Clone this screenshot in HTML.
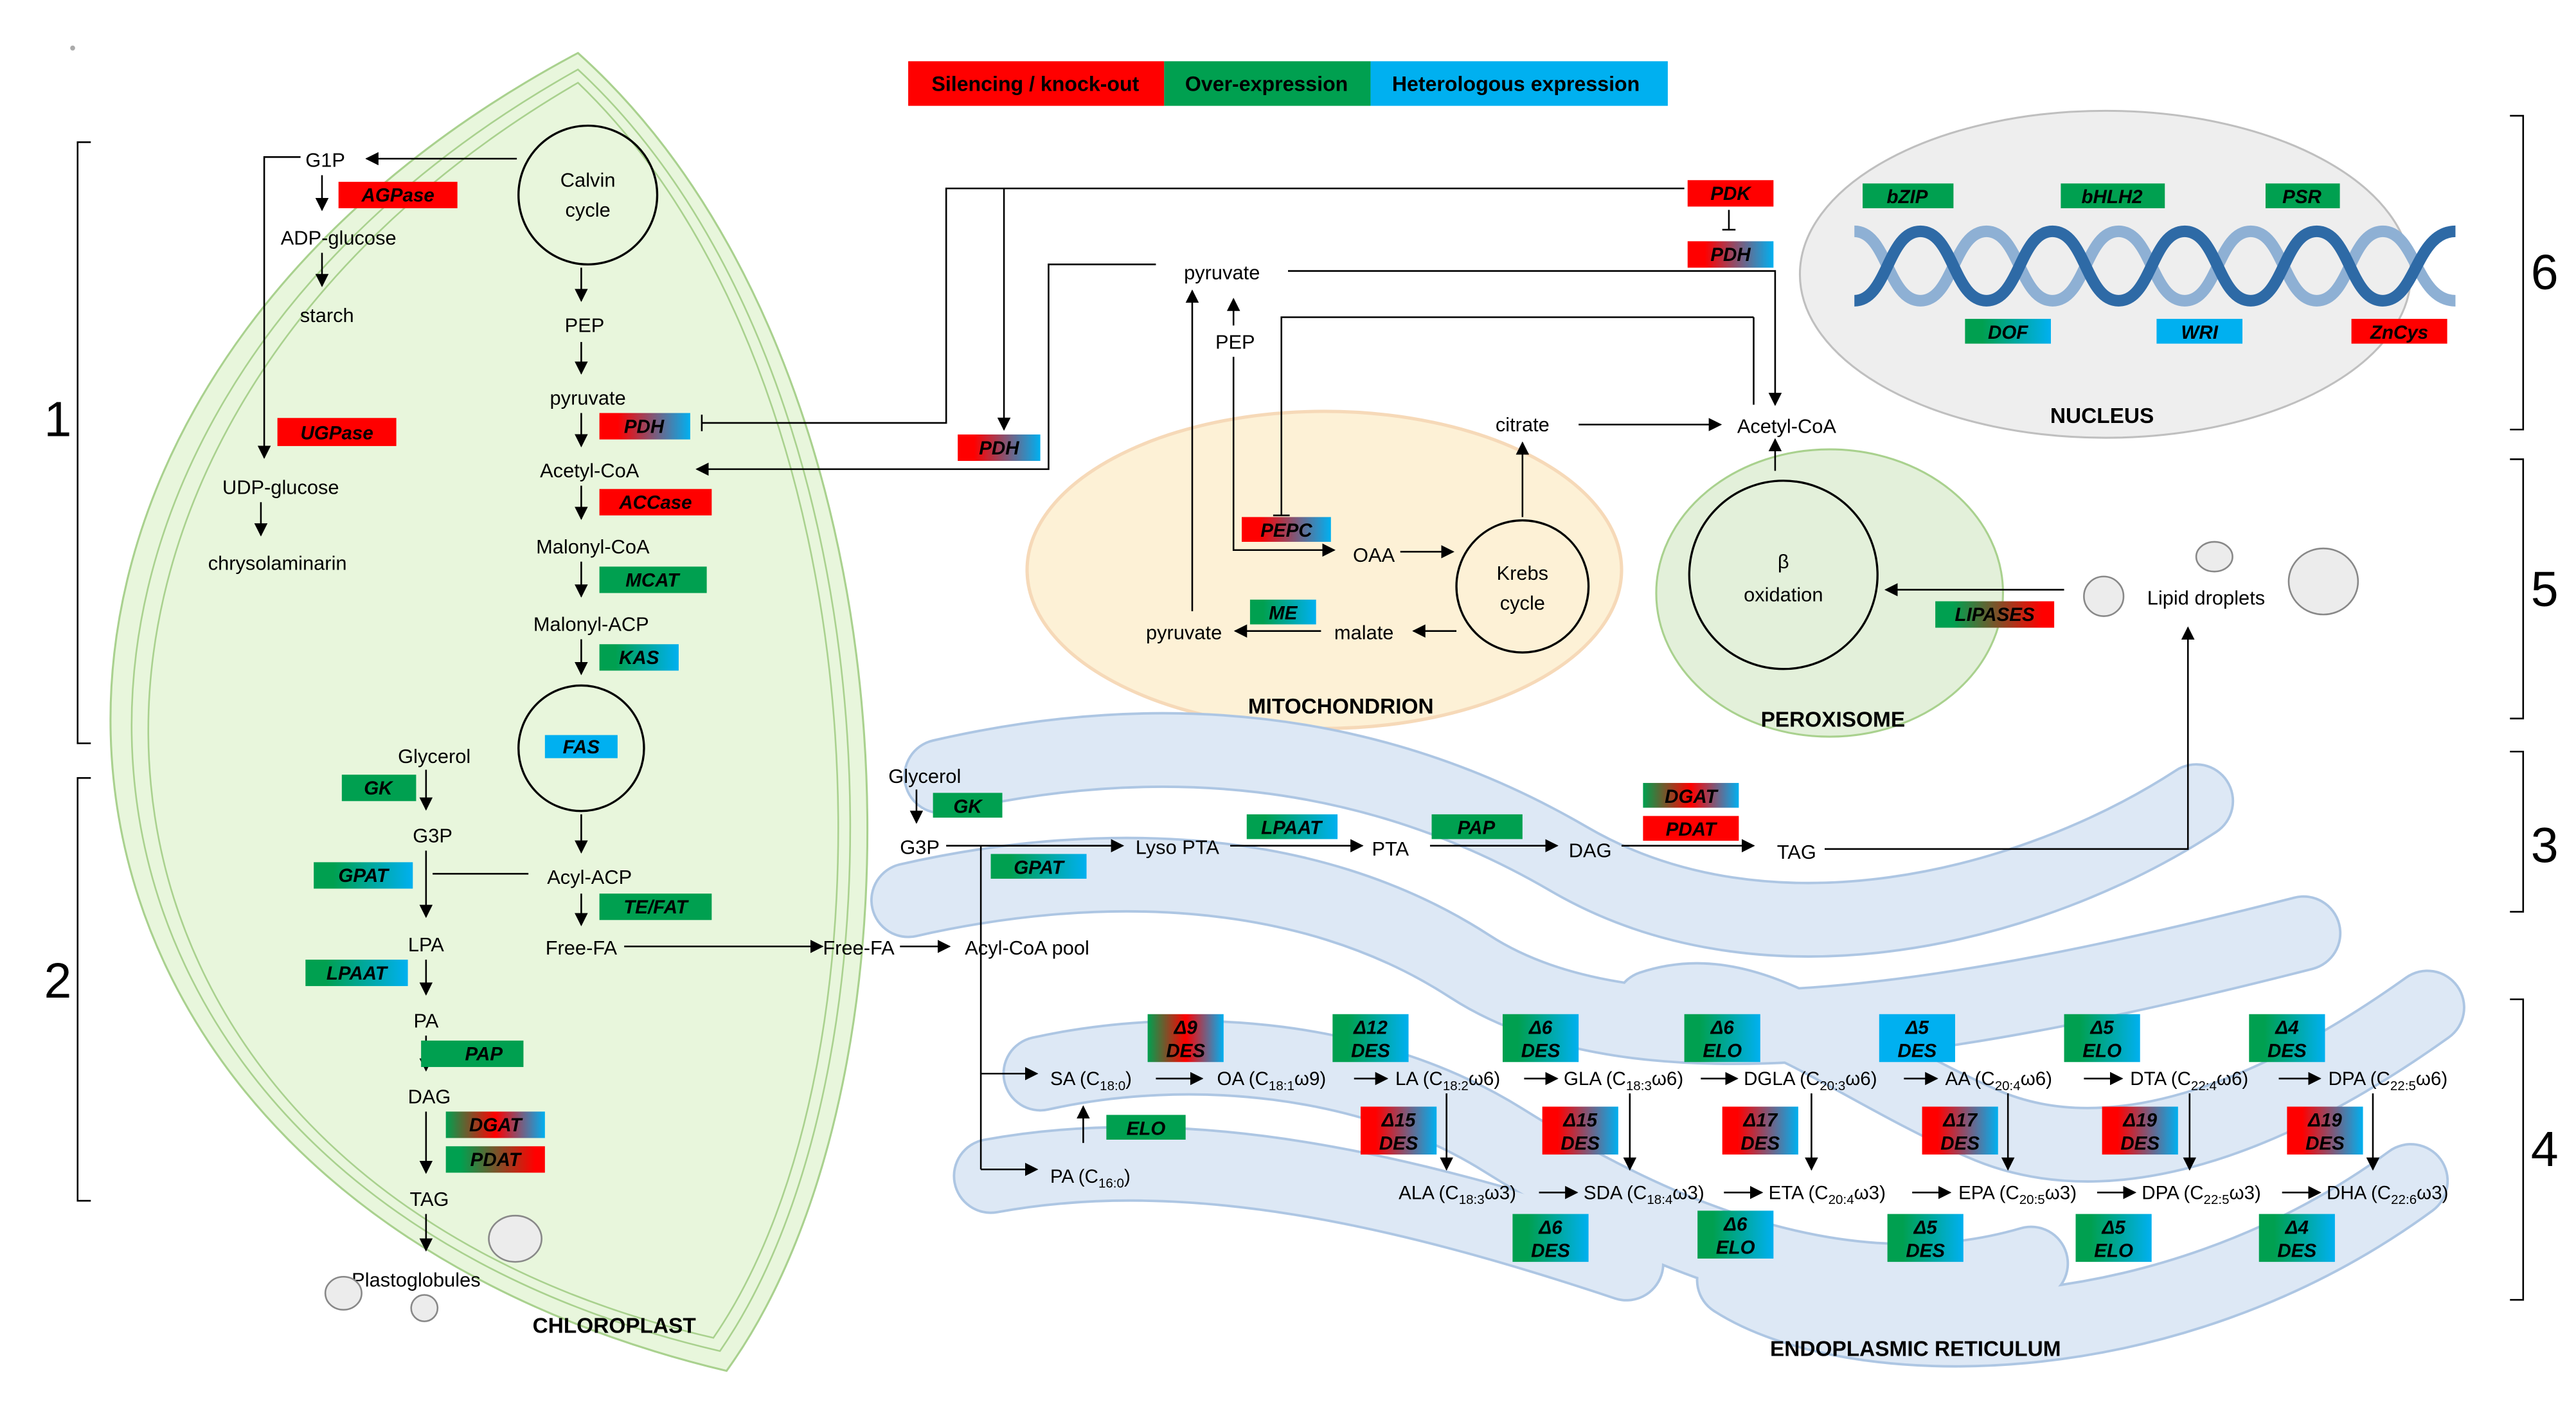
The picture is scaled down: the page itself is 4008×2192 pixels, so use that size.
<!DOCTYPE html>
<html><head><meta charset="utf-8"><style>html,body{margin:0;padding:0;background:#fff}svg{display:block}</style></head>
<body>
<svg xmlns="http://www.w3.org/2000/svg" width="4008" height="2192" viewBox="0 0 1560 853" font-family="Liberation Sans, sans-serif" font-size="12">
<defs>
<linearGradient id="rb"><stop offset="0.2" stop-color="#ff0000"/><stop offset="1" stop-color="#00b0f0"/></linearGradient>
<linearGradient id="gb"><stop offset="0.2" stop-color="#00a050"/><stop offset="1" stop-color="#00b0f0"/></linearGradient>
<linearGradient id="grb"><stop offset="0" stop-color="#00a050"/><stop offset="0.5" stop-color="#ff0000"/><stop offset="1" stop-color="#00b0f0"/></linearGradient>
<linearGradient id="gr"><stop offset="0.15" stop-color="#00a050"/><stop offset="0.9" stop-color="#ff0000"/></linearGradient>
<marker id="a" viewBox="0 0 10 10" refX="9" refY="5" markerWidth="8" markerHeight="8" markerUnits="userSpaceOnUse" orient="auto"><path d="M0,0L10,5L0,10z" fill="#000"/></marker>
</defs>
<style>
.l{stroke:#000;stroke-width:1;fill:none}
.t{text-anchor:middle}
.b{font-weight:bold;font-style:italic;font-size:11.5px;text-anchor:middle}
.h{font-weight:bold;text-anchor:middle;font-size:13px}
.s{font-size:8px}
</style>

<!-- Legend -->
<rect x="550" y="37" width="155" height="27" fill="#ff0000"/>
<rect x="705" y="37" width="125" height="27" fill="#00a050"/>
<rect x="830" y="37" width="180" height="27" fill="#00b0f0"/>
<g font-weight="bold" font-size="12.5" text-anchor="middle"><text x="627" y="55">Silencing / knock-out</text><text x="767" y="55">Over-expression</text><text x="918" y="55">Heterologous expression</text></g>

<!-- brackets -->
<g class="l" stroke-width="2.5">
<path d="M55,86H47V450H55"/><path d="M55,471H47V727H55"/>
<path d="M1520,70H1528V260H1520"/><path d="M1520,278H1528V435H1520"/><path d="M1520,455H1528V552H1520"/><path d="M1520,605H1528V787H1520"/>
</g>
<g font-size="30" text-anchor="middle"><text x="35" y="264">1</text><text x="35" y="604">2</text><text x="1541" y="175">6</text><text x="1541" y="367">5</text><text x="1541" y="522">3</text><text x="1541" y="706">4</text></g>

<!-- chloroplast -->
<path d="M350,32C-60,250 -20,720 440,830C570,650 560,220 350,32Z" fill="#e8f6dc" stroke="#a9d18e" stroke-width="1.2"/>
<path d="M350,42C-40,260 -5,715 436,818C556,645 548,225 350,42Z" fill="none" stroke="#a9d18e" stroke-width="1"/>
<path d="M350,50C-25,268 8,712 432,810C548,642 538,230 350,50Z" fill="none" stroke="#a9d18e" stroke-width="1"/>
<text class="h" x="372" y="807" font-size="12.5">CHLOROPLAST</text>

<circle cx="356" cy="118" r="42" fill="none" stroke="#000" stroke-width="1.3"/>
<text class="t" x="356" y="113">Calvin</text><text class="t" x="356" y="131">cycle</text>
<line class="l" x1="313" y1="96" x2="222" y2="96" marker-end="url(#a)"/>
<text class="t" x="197" y="101">G1P</text>
<path class="l" d="M182,95H160V277" marker-end="url(#a)"/>
<line class="l" x1="195" y1="106" x2="195" y2="127" marker-end="url(#a)"/>
<rect x="205" y="110" width="72" height="16" fill="#ff0000"/><text class="b" x="241" y="122">AGPase</text>
<text class="t" x="205" y="148">ADP-glucose</text>
<line class="l" x1="195" y1="153" x2="195" y2="173" marker-end="url(#a)"/>
<text class="t" x="198" y="195">starch</text>
<rect x="168" y="253" width="72" height="17" fill="#ff0000"/><text class="b" x="204" y="266">UGPase</text>
<text class="t" x="170" y="299">UDP-glucose</text>
<line class="l" x1="158" y1="304" x2="158" y2="324" marker-end="url(#a)"/>
<text class="t" x="168" y="345">chrysolaminarin</text>

<g class="l">
<line x1="352" y1="162" x2="352" y2="182" marker-end="url(#a)"/>
<line x1="352" y1="207" x2="352" y2="226" marker-end="url(#a)"/>
<line x1="352" y1="250" x2="352" y2="270" marker-end="url(#a)"/>
<line x1="352" y1="294" x2="352" y2="314" marker-end="url(#a)"/>
<line x1="352" y1="340" x2="352" y2="361" marker-end="url(#a)"/>
<line x1="352" y1="387" x2="352" y2="408" marker-end="url(#a)"/>
<line x1="352" y1="493" x2="352" y2="516" marker-end="url(#a)"/>
<line x1="352" y1="541" x2="352" y2="560" marker-end="url(#a)"/>
</g>
<text class="t" x="354" y="201">PEP</text>
<text class="t" x="356" y="245">pyruvate</text>
<rect x="363" y="250" width="55" height="16" fill="url(#rb)"/><text class="b" x="390" y="262">PDH</text>
<text class="t" x="357" y="289">Acetyl-CoA</text>
<rect x="363" y="296" width="68" height="16" fill="#ff0000"/><text class="b" x="397" y="308">ACCase</text>
<text class="t" x="359" y="335">Malonyl-CoA</text>
<rect x="363" y="343" width="65" height="16" fill="#00a050"/><text class="b" x="395" y="355">MCAT</text>
<text class="t" x="358" y="382">Malonyl-ACP</text>
<rect x="363" y="390" width="48" height="16" fill="url(#gb)"/><text class="b" x="387" y="402">KAS</text>
<circle cx="352" cy="453" r="38" fill="none" stroke="#000" stroke-width="1.3"/>
<rect x="330" y="445" width="44" height="14" fill="#00b0f0"/><text class="b" x="352" y="456">FAS</text>
<text class="t" x="357" y="535">Acyl-ACP</text>
<rect x="363" y="541" width="68" height="16" fill="#00a050"/><text class="b" x="397" y="553">TE/FAT</text>
<text class="t" x="352" y="578">Free-FA</text>
<line class="l" x1="378" y1="573" x2="498" y2="573" marker-end="url(#a)"/>
<text class="t" x="520" y="578">Free-FA</text>
<line class="l" x1="545" y1="573" x2="575" y2="573" marker-end="url(#a)"/>
<text class="t" x="622" y="578">Acyl-CoA pool</text>

<text class="t" x="263" y="462">Glycerol</text>
<line class="l" x1="258" y1="466" x2="258" y2="490" marker-end="url(#a)"/>
<rect x="207" y="469" width="45" height="16" fill="#00a050"/><text class="b" x="229" y="481">GK</text>
<text class="t" x="262" y="510">G3P</text>
<line class="l" x1="258" y1="515" x2="258" y2="555" marker-end="url(#a)"/>
<line class="l" x1="262" y1="529" x2="320" y2="529"/>
<rect x="190" y="522" width="60" height="16" fill="url(#gb)"/><text class="b" x="220" y="534">GPAT</text>
<text class="t" x="258" y="576">LPA</text>
<line class="l" x1="258" y1="581" x2="258" y2="602" marker-end="url(#a)"/>
<rect x="185" y="581" width="62" height="16" fill="url(#gb)"/><text class="b" x="216" y="593">LPAAT</text>
<text class="t" x="258" y="622">PA</text>
<line class="l" x1="258" y1="627" x2="258" y2="648" marker-end="url(#a)"/>
<rect x="255" y="630" width="62" height="16" fill="#00a050"/><text class="b" x="293" y="642">PAP</text>
<text class="t" x="260" y="668">DAG</text>
<line class="l" x1="258" y1="673" x2="258" y2="710" marker-end="url(#a)"/>
<rect x="270" y="673" width="60" height="16" fill="url(#grb)"/><text class="b" x="300" y="685">DGAT</text>
<rect x="270" y="694" width="60" height="16" fill="url(#gr)"/><text class="b" x="300" y="706">PDAT</text>
<text class="t" x="260" y="730">TAG</text>
<line class="l" x1="258" y1="735" x2="258" y2="757" marker-end="url(#a)"/>
<text class="t" x="252" y="779">Plastoglobules</text>
<g fill="#ececec" stroke="#888"><ellipse cx="312" cy="750" rx="16" ry="14"/><ellipse cx="208" cy="783" rx="11" ry="10"/><ellipse cx="257" cy="792" rx="8" ry="8"/></g>

<!-- nucleus -->
<ellipse cx="1275" cy="166" rx="185" ry="99" fill="#eeeeee" stroke="#bfbfbf" stroke-width="1.2"/>
<g fill="none" stroke-width="7">
<path d="M1123,140C1143,140 1143,182 1163,182S1183,140 1203,140S1223,182 1243,182S1263,140 1283,140S1303,182 1323,182S1343,140 1363,140S1383,182 1403,182S1423,140 1443,140S1463,182 1487,182" stroke="#8eb0d4"/>
<path d="M1123,182C1143,182 1143,140 1163,140S1183,182 1203,182S1223,140 1243,140S1263,182 1283,182S1303,140 1323,140S1343,182 1363,182S1383,140 1403,140S1423,182 1443,182S1463,140 1487,140" stroke="#2e6aa6"/>
</g>
<rect x="1128" y="111" width="55" height="15" fill="#00a050"/><text class="b" x="1155" y="123">bZIP</text>
<rect x="1248" y="111" width="63" height="15" fill="#00a050"/><text class="b" x="1279" y="123">bHLH2</text>
<rect x="1372" y="111" width="45" height="15" fill="#00a050"/><text class="b" x="1394" y="123">PSR</text>
<rect x="1190" y="193" width="52" height="15" fill="url(#gb)"/><text class="b" x="1216" y="205">DOF</text>
<rect x="1306" y="193" width="52" height="15" fill="#00b0f0"/><text class="b" x="1332" y="205">WRI</text>
<rect x="1424" y="193" width="58" height="15" fill="#ff0000"/><text class="b" x="1453" y="205">ZnCys</text>
<text class="h" x="1273" y="256">NUCLEUS</text>

<!-- mitochondrion -->
<ellipse cx="802" cy="345" rx="180" ry="96" fill="#fdf1d6" stroke="#f6d9b8" stroke-width="2"/>
<text class="h" x="812" y="432">MITOCHONDRION</text>

<!-- peroxisome -->
<ellipse cx="1108" cy="359" rx="105" ry="87" fill="#e3f0da" stroke="#a9d18e" stroke-width="1.2"/>
<circle cx="1080" cy="348" r="57" fill="none" stroke="#000" stroke-width="1.3"/>
<text class="t" x="1080" y="344">β</text><text class="t" x="1080" y="364">oxidation</text>
<line class="l" x1="1075" y1="285" x2="1075" y2="266" marker-end="url(#a)"/>
<line class="l" x1="1250" y1="357" x2="1142" y2="357" marker-end="url(#a)"/>
<rect x="1172" y="364" width="72" height="16" fill="url(#gr)"/><text class="b" x="1208" y="376">LIPASES</text>
<text class="h" x="1110" y="440">PEROXISOME</text>
<g fill="#ececec" stroke="#888"><ellipse cx="1274" cy="361" rx="12" ry="12"/><ellipse cx="1341" cy="337" rx="11" ry="9"/><ellipse cx="1407" cy="352" rx="21" ry="20"/></g>
<text class="t" x="1336" y="366">Lipid droplets</text>

<circle cx="922" cy="355" r="40" fill="none" stroke="#000" stroke-width="1.3"/>
<text class="t" x="922" y="351">Krebs</text><text class="t" x="922" y="369">cycle</text>
<text class="t" x="740" y="169">pyruvate</text>
<text class="t" x="748" y="211">PEP</text>
<line class="l" x1="747" y1="197" x2="747" y2="181" marker-end="url(#a)"/>
<path class="l" d="M747,216V333H808" marker-end="url(#a)"/>
<rect x="752" y="313" width="54" height="15" fill="url(#rb)"/><text class="b" x="779" y="325">PEPC</text>
<path class="l" d="M1062,192H776V312M771,312H781"/>
<text class="t" x="832" y="340">OAA</text>
<line class="l" x1="848" y1="334" x2="880" y2="334" marker-end="url(#a)"/>
<line class="l" x1="922" y1="313" x2="922" y2="268" marker-end="url(#a)"/>
<text class="t" x="922" y="261">citrate</text>
<line class="l" x1="956" y1="257" x2="1042" y2="257" marker-end="url(#a)"/>
<text class="t" x="1082" y="262">Acetyl-CoA</text>
<line class="l" x1="882" y1="382" x2="856" y2="382" marker-end="url(#a)"/>
<text class="t" x="826" y="387">malate</text>
<line class="l" x1="800" y1="382" x2="748" y2="382" marker-end="url(#a)"/>
<rect x="757" y="363" width="40" height="15" fill="url(#gb)"/><text class="b" x="777" y="375">ME</text>
<text class="t" x="717" y="387">pyruvate</text>
<line class="l" x1="722" y1="370" x2="722" y2="176" marker-end="url(#a)"/>

<!-- long connectors -->
<path class="l" d="M425,256H573V114H1020" stroke="#555"/>
<line class="l" x1="425" y1="251" x2="425" y2="261"/>
<path class="l" d="M608,114V260" marker-end="url(#a)"/>
<rect x="580" y="263" width="50" height="16" fill="url(#rb)"/><text class="b" x="605" y="275">PDH</text>
<path class="l" d="M700,160H635V284H422" marker-end="url(#a)"/>
<rect x="1022" y="109" width="52" height="16" fill="#ff0000"/><text class="b" x="1048" y="121">PDK</text>
<line class="l" x1="1047" y1="127" x2="1047" y2="139"/><line class="l" x1="1043" y1="139" x2="1051" y2="139"/>
<rect x="1022" y="146" width="52" height="16" fill="url(#rb)"/><text class="b" x="1048" y="158">PDH</text>
<path class="l" d="M780,164H1075V245" marker-end="url(#a)"/>
<path class="l" d="M1062,192V245"/>

<!-- ER -->
<g fill="none" stroke-linecap="round">
<g stroke="#adc6e3" stroke-width="46">
<path d="M570,470C700,440 830,450 950,520S1230,550 1330,485"/>
<path d="M550,545C660,520 790,520 890,585S1180,620 1395,565"/>
<path d="M1000,610C1060,590 1110,640 1200,680S1400,660 1470,610"/>
<path d="M630,650C720,630 830,640 910,690S1110,800 1230,765"/>
<path d="M600,712C720,690 850,720 985,765"/>
<path d="M1050,775C1120,820 1310,825 1460,715"/>
</g>
<g stroke="#dde8f5" stroke-width="43">
<path d="M570,470C700,440 830,450 950,520S1230,550 1330,485"/>
<path d="M550,545C660,520 790,520 890,585S1180,620 1395,565"/>
<path d="M1000,610C1060,590 1110,640 1200,680S1400,660 1470,610"/>
<path d="M630,650C720,630 830,640 910,690S1110,800 1230,765"/>
<path d="M600,712C720,690 850,720 985,765"/>
<path d="M1050,775C1120,820 1310,825 1460,715"/>
</g>
</g>
<text class="h" x="1160" y="821">ENDOPLASMIC RETICULUM</text>

<text class="t" x="560" y="474">Glycerol</text>
<line class="l" x1="555" y1="478" x2="555" y2="498" marker-end="url(#a)"/>
<rect x="565" y="480" width="42" height="15" fill="#00a050"/><text class="b" x="586" y="492">GK</text>
<text class="t" x="557" y="517">G3P</text>
<line class="l" x1="573" y1="512" x2="680" y2="512" marker-end="url(#a)" stroke-width="1.4"/>
<text class="t" x="713" y="517">Lyso PTA</text>
<rect x="755" y="493" width="55" height="15" fill="url(#gb)"/><text class="b" x="782" y="505">LPAAT</text>
<line class="l" x1="745" y1="512" x2="825" y2="512" marker-end="url(#a)" stroke-width="1.4"/>
<text class="t" x="842" y="518">PTA</text>
<rect x="867" y="493" width="55" height="15" fill="#00a050"/><text class="b" x="894" y="505">PAP</text>
<line class="l" x1="866" y1="512" x2="943" y2="512" marker-end="url(#a)" stroke-width="1.4"/>
<text class="t" x="963" y="519">DAG</text>
<rect x="995" y="474" width="58" height="15" fill="url(#grb)"/><text class="b" x="1024" y="486">DGAT</text>
<rect x="995" y="494" width="58" height="15" fill="#ff0000"/><text class="b" x="1024" y="506">PDAT</text>
<line class="l" x1="982" y1="512" x2="1062" y2="512" marker-end="url(#a)" stroke-width="1.4"/>
<text class="t" x="1088" y="520">TAG</text>
<path class="l" d="M1105,514H1325V380" stroke="#666" marker-end="url(#a)"/>
<rect x="600" y="517" width="58" height="15" fill="url(#gb)"/><text class="b" x="629" y="529">GPAT</text>
<path class="l" d="M594,512V708" stroke="#666"/>
<line class="l" x1="594" y1="650" x2="628" y2="650" marker-end="url(#a)" stroke-width="1.4"/>
<line class="l" x1="594" y1="708" x2="628" y2="708" marker-end="url(#a)" stroke-width="1.4"/>

<g font-size="11.5">
<text x="636" y="657">SA (C<tspan class="s" dy="3">18:0</tspan><tspan dy="-3">)</tspan></text>
<text x="737" y="657">OA (C<tspan class="s" dy="3">18:1</tspan><tspan dy="-3">ω9)</tspan></text>
<text x="845" y="657">LA (C<tspan class="s" dy="3">18:2</tspan><tspan dy="-3">ω6)</tspan></text>
<text x="947" y="657">GLA (C<tspan class="s" dy="3">18:3</tspan><tspan dy="-3">ω6)</tspan></text>
<text x="1056" y="657">DGLA (C<tspan class="s" dy="3">20:3</tspan><tspan dy="-3">ω6)</tspan></text>
<text x="1178" y="657">AA (C<tspan class="s" dy="3">20:4</tspan><tspan dy="-3">ω6)</tspan></text>
<text x="1290" y="657">DTA (C<tspan class="s" dy="3">22:4</tspan><tspan dy="-3">ω6)</tspan></text>
<text x="1410" y="657">DPA (C<tspan class="s" dy="3">22:5</tspan><tspan dy="-3">ω6)</tspan></text>
<text x="636" y="716">PA (C<tspan class="s" dy="3">16:0</tspan><tspan dy="-3">)</tspan></text>
<text x="847" y="726">ALA (C<tspan class="s" dy="3">18:3</tspan><tspan dy="-3">ω3)</tspan></text>
<text x="959" y="726">SDA (C<tspan class="s" dy="3">18:4</tspan><tspan dy="-3">ω3)</tspan></text>
<text x="1071" y="726">ETA (C<tspan class="s" dy="3">20:4</tspan><tspan dy="-3">ω3)</tspan></text>
<text x="1186" y="726">EPA (C<tspan class="s" dy="3">20:5</tspan><tspan dy="-3">ω3)</tspan></text>
<text x="1297" y="726">DPA (C<tspan class="s" dy="3">22:5</tspan><tspan dy="-3">ω3)</tspan></text>
<text x="1409" y="726">DHA (C<tspan class="s" dy="3">22:6</tspan><tspan dy="-3">ω3)</tspan></text>
</g>
<g class="l" stroke-width="1.4">
<line x1="700" y1="653" x2="728" y2="653" marker-end="url(#a)"/>
<line x1="820" y1="653" x2="840" y2="653" marker-end="url(#a)"/>
<line x1="923" y1="653" x2="943" y2="653" marker-end="url(#a)"/>
<line x1="1030" y1="653" x2="1052" y2="653" marker-end="url(#a)"/>
<line x1="1153" y1="653" x2="1173" y2="653" marker-end="url(#a)"/>
<line x1="1262" y1="653" x2="1285" y2="653" marker-end="url(#a)"/>
<line x1="1380" y1="653" x2="1405" y2="653" marker-end="url(#a)"/>
<line x1="932" y1="722" x2="955" y2="722" marker-end="url(#a)"/>
<line x1="1044" y1="722" x2="1067" y2="722" marker-end="url(#a)"/>
<line x1="1158" y1="722" x2="1181" y2="722" marker-end="url(#a)"/>
<line x1="1270" y1="722" x2="1293" y2="722" marker-end="url(#a)"/>
<line x1="1382" y1="722" x2="1405" y2="722" marker-end="url(#a)"/>
</g>
<g class="l">
<line x1="876" y1="662" x2="876" y2="708" marker-end="url(#a)"/>
<line x1="987" y1="662" x2="987" y2="708" marker-end="url(#a)"/>
<line x1="1097" y1="662" x2="1097" y2="708" marker-end="url(#a)"/>
<line x1="1216" y1="662" x2="1216" y2="708" marker-end="url(#a)"/>
<line x1="1326" y1="662" x2="1326" y2="708" marker-end="url(#a)"/>
<line x1="1437" y1="662" x2="1437" y2="708" marker-end="url(#a)"/>
<line x1="656" y1="692" x2="656" y2="670" marker-end="url(#a)"/>
</g>
<rect x="670" y="675" width="48" height="15" fill="#00a050"/><text class="b" x="694" y="687">ELO</text>

<g>
<rect x="695" y="614" width="46" height="29" fill="url(#grb)"/><text class="b" x="718" y="626">Δ9</text><text class="b" x="718" y="640">DES</text>
<rect x="807" y="614" width="46" height="29" fill="url(#gb)"/><text class="b" x="830" y="626">Δ12</text><text class="b" x="830" y="640">DES</text>
<rect x="910" y="614" width="46" height="29" fill="url(#gb)"/><text class="b" x="933" y="626">Δ6</text><text class="b" x="933" y="640">DES</text>
<rect x="1020" y="614" width="46" height="29" fill="url(#gb)"/><text class="b" x="1043" y="626">Δ6</text><text class="b" x="1043" y="640">ELO</text>
<rect x="1138" y="614" width="46" height="29" fill="#00b0f0"/><text class="b" x="1161" y="626">Δ5</text><text class="b" x="1161" y="640">DES</text>
<rect x="1250" y="614" width="46" height="29" fill="url(#gb)"/><text class="b" x="1273" y="626">Δ5</text><text class="b" x="1273" y="640">ELO</text>
<rect x="1362" y="614" width="46" height="29" fill="url(#gb)"/><text class="b" x="1385" y="626">Δ4</text><text class="b" x="1385" y="640">DES</text>

<rect x="824" y="670" width="46" height="29" fill="url(#rb)"/><text class="b" x="847" y="682">Δ15</text><text class="b" x="847" y="696">DES</text>
<rect x="934" y="670" width="46" height="29" fill="url(#rb)"/><text class="b" x="957" y="682">Δ15</text><text class="b" x="957" y="696">DES</text>
<rect x="1043" y="670" width="46" height="29" fill="url(#rb)"/><text class="b" x="1066" y="682">Δ17</text><text class="b" x="1066" y="696">DES</text>
<rect x="1164" y="670" width="46" height="29" fill="url(#rb)"/><text class="b" x="1187" y="682">Δ17</text><text class="b" x="1187" y="696">DES</text>
<rect x="1273" y="670" width="46" height="29" fill="url(#rb)"/><text class="b" x="1296" y="682">Δ19</text><text class="b" x="1296" y="696">DES</text>
<rect x="1385" y="670" width="46" height="29" fill="url(#rb)"/><text class="b" x="1408" y="682">Δ19</text><text class="b" x="1408" y="696">DES</text>

<rect x="916" y="735" width="46" height="29" fill="url(#gb)"/><text class="b" x="939" y="747">Δ6</text><text class="b" x="939" y="761">DES</text>
<rect x="1028" y="733" width="46" height="29" fill="url(#gb)"/><text class="b" x="1051" y="745">Δ6</text><text class="b" x="1051" y="759">ELO</text>
<rect x="1143" y="735" width="46" height="29" fill="url(#gb)"/><text class="b" x="1166" y="747">Δ5</text><text class="b" x="1166" y="761">DES</text>
<rect x="1257" y="735" width="46" height="29" fill="url(#gb)"/><text class="b" x="1280" y="747">Δ5</text><text class="b" x="1280" y="761">ELO</text>
<rect x="1368" y="735" width="46" height="29" fill="url(#gb)"/><text class="b" x="1391" y="747">Δ4</text><text class="b" x="1391" y="761">DES</text>
</g>
<circle cx="44" cy="29" r="1.5" fill="#aaa"/>
</svg>
</body></html>
